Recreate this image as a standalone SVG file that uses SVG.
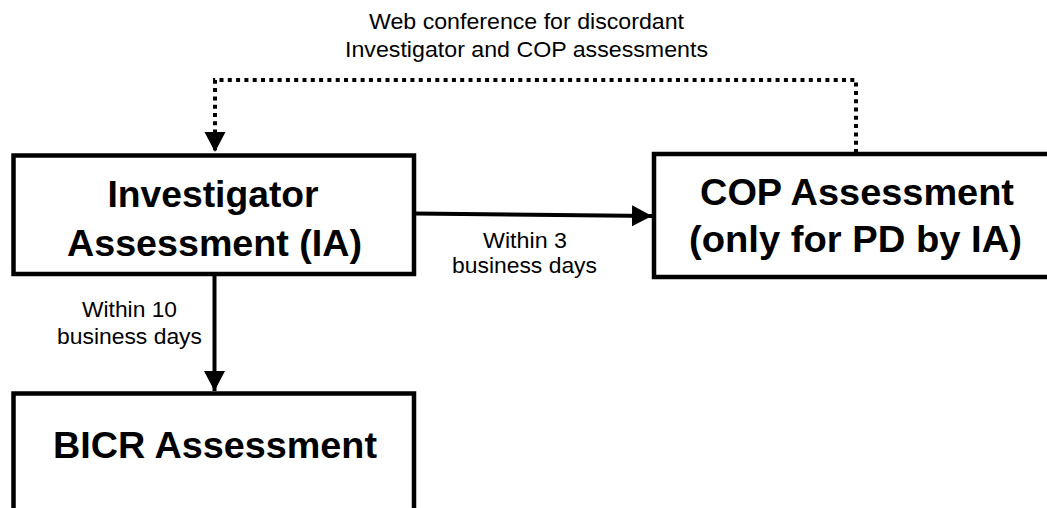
<svg xmlns="http://www.w3.org/2000/svg" width="1047" height="508" viewBox="0 0 1047 508">
  <style>
    .box { fill: #ffffff; stroke: #000000; stroke-width: 4.5; }
    .title { font-family: "Liberation Sans", Arial, sans-serif; font-weight: bold; font-size: 36px; fill: #000000; text-anchor: middle; }
    .label { font-family: "Liberation Sans", Arial, sans-serif; font-size: 22px; fill: #000000; text-anchor: middle; }
    .solid { fill: none; stroke: #000000; stroke-width: 4; }
    .dotted { fill: none; stroke: #000000; stroke-width: 4; stroke-dasharray: 4 4.3; }
  </style>
  <defs>
    <marker id="arrow" markerUnits="userSpaceOnUse" markerWidth="22" markerHeight="22" refX="20" refY="10.5" orient="auto">
      <path d="M0,0 L20,10.5 L0,21 Z" fill="#000000"/>
    </marker>
  </defs>
  <rect width="1047" height="508" fill="#ffffff"/>

  <g id="node-ia">
    <rect class="box" x="13.5" y="155.5" width="400.5" height="118.5"/>
    <text class="title" x="213" y="207" textLength="211" lengthAdjust="spacingAndGlyphs">Investigator</text>
    <text class="title" x="214.5" y="256" textLength="295" lengthAdjust="spacingAndGlyphs">Assessment (IA)</text>
  </g>

  <g id="node-cop">
    <rect class="box" x="654" y="154" width="410" height="123"/>
    <text class="title" x="857" y="205" textLength="314" lengthAdjust="spacingAndGlyphs">COP Assessment</text>
    <text class="title" x="855.5" y="252" textLength="333" lengthAdjust="spacingAndGlyphs">(only for PD by IA)</text>
  </g>

  <g id="node-bicr">
    <rect class="box" x="13.5" y="393.5" width="400.5" height="140"/>
    <text class="title" x="215" y="458" textLength="324" lengthAdjust="spacingAndGlyphs">BICR Assessment</text>
  </g>

  <g id="connectors">
    <path class="solid" d="M414,213.5 L652,216" marker-end="url(#arrow)"/>
    <path class="solid" d="M214.5,274 L214.5,391" marker-end="url(#arrow)"/>
    <path class="dotted" d="M856,153 L856,80 L215,80 L215,152" marker-end="url(#arrow)"/>
  </g>

  <g id="labels">
    <text class="label" x="526.5" y="29" textLength="315" lengthAdjust="spacingAndGlyphs">Web conference for discordant</text>
    <text class="label" x="526.5" y="57" textLength="363" lengthAdjust="spacingAndGlyphs">Investigator and COP assessments</text>
    <text class="label" x="525" y="248" textLength="84" lengthAdjust="spacingAndGlyphs">Within 3</text>
    <text class="label" x="524.5" y="273" textLength="145" lengthAdjust="spacingAndGlyphs">business days</text>
    <text class="label" x="129.5" y="317" textLength="95" lengthAdjust="spacingAndGlyphs">Within 10</text>
    <text class="label" x="129.5" y="344" textLength="145" lengthAdjust="spacingAndGlyphs">business days</text>
  </g>
</svg>
